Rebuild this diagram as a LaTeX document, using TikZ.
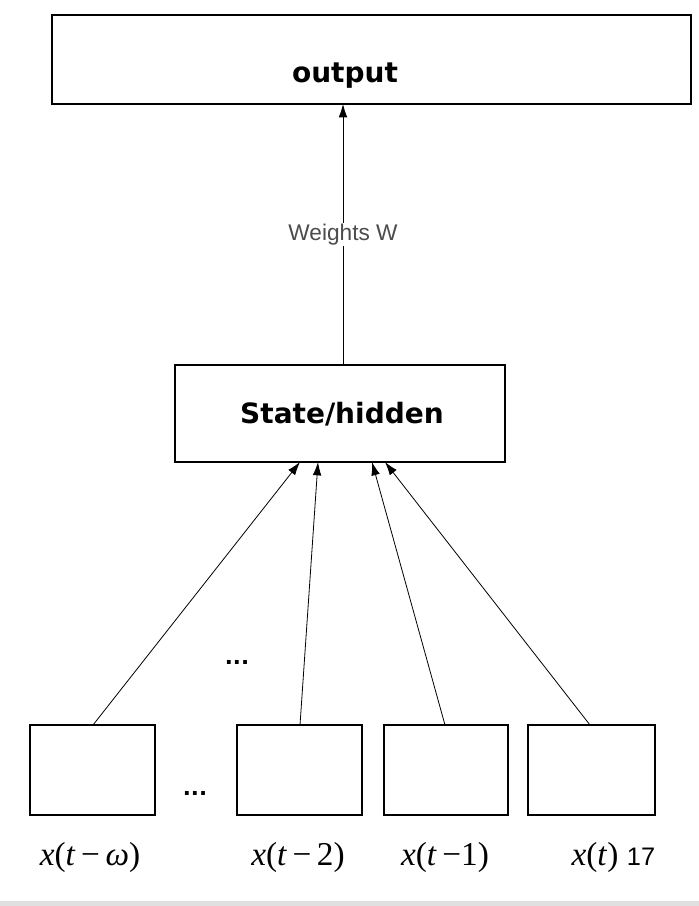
\documentclass[tikz,border=0pt]{standalone}
\usepackage{fontspec}
\usetikzlibrary{arrows.meta}
\setmainfont{Liberation Serif}
\newfontfamily\dvs{DejaVu Sans}
\newfontfamily\lss{Liberation Sans}
\begin{document}
\begin{tikzpicture}[x=0.75pt,y=-0.75pt,
  box/.style={draw,line width=0.9pt,inner sep=0pt},
  arr/.style={-{Latex[length=10pt,width=6.5pt]},line width=0.6pt},
  lab/.style={font=\fontsize{25}{26}\selectfont}]
\fill[white] (0,0) rectangle (699,906);
\fill[black!12] (0,901) rectangle (699,906);
\node[box,minimum width=639*0.75pt,minimum height=89*0.75pt] (out) at (371.5,59.5) {};
\node[font=\dvs\bfseries\fontsize{21}{22}\selectfont] (outt) at (345,76) {output};
\node[box,minimum width=330*0.75pt,minimum height=97*0.75pt] (st) at (340,413.5) {};
\node[font=\dvs\bfseries\fontsize{21}{22}\selectfont] (stt) at (342,414) {State/hidden};
\coordinate (s1) at (343,365);
\coordinate (o1) at (343,104);
\draw[arr] (s1) -- node[fill=white,inner sep=1pt,font=\lss\fontsize{17}{18}\selectfont,text=black!70] (w) {Weights W} (o1);
\node[box,minimum width=125*0.75pt,minimum height=90*0.75pt] (b1) at (92.5,770) {};
\node[box,minimum width=125*0.75pt,minimum height=90*0.75pt] (b2) at (299.5,770) {};
\node[box,minimum width=124*0.75pt,minimum height=90*0.75pt] (b3) at (446,770) {};
\node[box,minimum width=127*0.75pt,minimum height=90*0.75pt] (b4) at (591.5,770) {};
\coordinate (a1) at (300,462);\coordinate (a2) at (318,462);
\coordinate (a3) at (372,462);\coordinate (a4) at (385,462);
\coordinate (c1) at (93,725);\coordinate (c2) at (300,725);
\coordinate (c3) at (445,725);\coordinate (c4) at (590,725);
\draw[arr] (c1) -- (a1);
\draw[arr] (c2) -- (a2);
\draw[arr] (c3) -- (a3);
\draw[arr] (c4) -- (a4);
\node[font=\dvs\bfseries\fontsize{16}{16}\selectfont] (d1) at (237,662) {...};
\node[font=\dvs\bfseries\fontsize{16}{16}\selectfont] (d2) at (195,793) {...};
\node[lab] (l1) at (90,857) {\textit{x}(\textit{t}\,−\,\textit{ω})};
\node[lab] (l2) at (298,857) {\textit{x}(\textit{t}\,−\,2)};
\node[lab] (l3) at (445,857) {\textit{x}(\textit{t}\,−1)};
\node[lab] (l4) at (595,857) {\textit{x}(\textit{t})};
\node[font=\lss\fontsize{19}{20}\selectfont] (n17) at (641,857) {17};
\end{tikzpicture}
\end{document}
